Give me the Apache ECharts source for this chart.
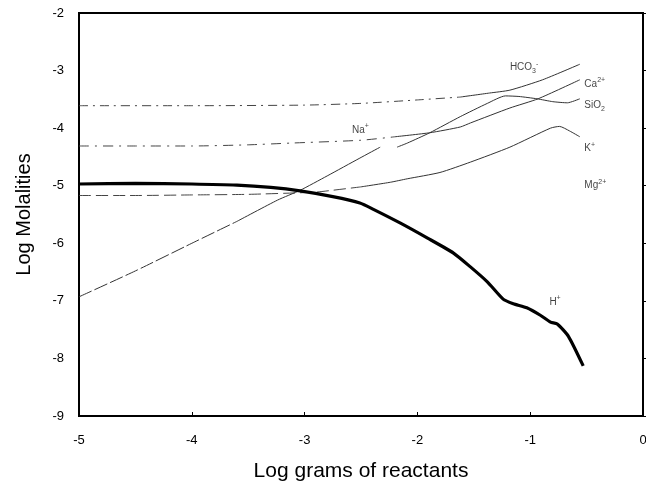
<!DOCTYPE html>
<html>
<head>
<meta charset="utf-8">
<script src="https://cdn.jsdelivr.net/npm/echarts@6/dist/echarts.min.js"></script>
<style>html,body{margin:0;padding:0;background:#fff}#c{width:646px;height:482px}</style>
</head>
<body>
<div id="c"></div>
<script>
// Axis ticks
var xTicks = [-5, -4, -3, -2, -1, 0];
var yTicks = [-9, -8, -7, -6, -5, -4, -3, -2];

// Series values: [log grams of reactants, log molality]
var hPlus = [[-5,-4.97],[-4.5,-4.96],[-4,-4.97],[-3.6,-4.99],[-3.3,-5.03],[-3.04,-5.09],[-2.75,-5.19],[-2.51,-5.3],[-2.39,-5.41],[-2.15,-5.65],[-1.91,-5.91],[-1.68,-6.17],[-1.53,-6.41],[-1.38,-6.67],[-1.24,-6.97],[-1.15,-7.05],[-1.03,-7.12],[-0.91,-7.25],[-0.82,-7.37],[-0.76,-7.4],[-0.66,-7.62],[-0.53,-8.13]];
var steepCurve = [[-5,-6.93],[-4.5,-6.48],[-4,-6.0],[-3.6,-5.62],[-3.24,-5.25],[-3.04,-5.08],[-2.8,-4.83],[-2.51,-4.52],[-2.33,-4.33],null,[-2.18,-4.33],[-2.09,-4.26],[-1.89,-4.08],[-1.62,-3.8],[-1.38,-3.57],[-1.22,-3.44],[-1.1,-3.45],[-0.94,-3.49],[-0.8,-3.54],[-0.67,-3.56],[-0.56,-3.49]];
var naCaCurve = [[-5,-4.31],[-4.5,-4.31],[-4,-4.31],[-3.5,-4.29],[-3.13,-4.26],[-2.5,-4.21],[-2.2,-4.15],[-1.89,-4.08],[-1.62,-3.98],[-1.53,-3.91],[-1.18,-3.65],[-0.93,-3.49],[-0.56,-3.16]];
var hco3Curve = [[-5,-3.61],[-4,-3.61],[-3,-3.6],[-2.5,-3.57],[-2,-3.51],[-1.62,-3.46],[-1.36,-3.39],[-1.18,-3.34],[-0.89,-3.16],[-0.56,-2.89]];
var kCurve = [[-5,-5.17],[-4.5,-5.17],[-4,-5.16],[-3.5,-5.15],[-3,-5.12],[-2.89,-5.11],[-2.5,-5.02],[-2.24,-4.94],[-2.09,-4.88],[-1.8,-4.77],[-1.53,-4.59],[-1.18,-4.33],[-0.82,-4.0],[-0.74,-3.97],[-0.65,-4.05],[-0.56,-4.15]];

// Species labels (annotation anchor in data coords, rich text)
var speciesLabels = [
  [-1.18, -2.94, '{b|HCO}{sb|3}{sp|-}'],
  [-0.52, -3.23, '{b|Ca}{sp|2+}'],
  [-0.52, -3.60, '{b|SiO}{sb|2}'],
  [-2.58, -4.03, '{b|Na}{sp|+}'],
  [-0.52, -4.35, '{b|K}{sp|+}'],
  [-0.52, -5.00, '{b|Mg}{sp|2+}'],
  [-0.83, -7.02, '{b|H}{sp|+}']
];

var FONT = '"Liberation Sans", Arial, sans-serif';

// split a curve into a faint left part and a solid right part sharing one point
function split(data, xs) {
  var k = data.length - 1;
  for (var i = 0; i < data.length; i++) {
    if (data[i] !== null && data[i][0] >= xs) { k = i; break; }
  }
  return [data.slice(0, k + 1), data.slice(k)];
}
function lineSeries(data, width, type, color) {
  return {
    type: 'line', data: data, showSymbol: false, symbol: 'none', connectNulls: false,
    smooth: 0.2, silent: true, animation: false,
    lineStyle: { width: width, type: type, color: color }
  };
}

var series = [];
var s1 = split(hco3Curve, -1.8);
series.push(lineSeries(s1[0], 1, [9, 5, 2, 5], '#444'));
series.push(lineSeries(s1[1], 1, 'solid', '#333'));
var s2 = split(naCaCurve, -2.3);
series.push(lineSeries(s2[0], 1, [10, 6, 2, 6], '#444'));
series.push(lineSeries(s2[1], 1, 'solid', '#333'));
var s3 = split(kCurve, -2.6);
series.push(lineSeries(s3[0], 1, [12, 5], '#444'));
series.push(lineSeries(s3[1], 1, 'solid', '#333'));
var s4 = split(steepCurve, -3.6);
series.push(lineSeries(s4[0], 1, [14, 3], '#333'));
series.push(lineSeries(s4[1], 1, 'solid', '#333'));
series.push(lineSeries(hPlus, 3.2, 'solid', '#000'));

series.push({
  type: 'scatter', symbolSize: 0, silent: true, animation: false,
  data: speciesLabels.map(function (l) { return { value: [l[0], l[1]], text: l[2] }; }),
  label: {
    show: true, position: [0, 0], align: 'left', verticalAlign: 'middle',
    formatter: function (p) { return p.data.text; },
    rich: {
      b: { fontSize: 10, fontFamily: FONT, color: '#111', lineHeight: 14 },
      sp: { fontSize: 7, fontFamily: FONT, color: '#111', verticalAlign: 'top', lineHeight: 8 },
      sb: { fontSize: 7, fontFamily: FONT, color: '#111', verticalAlign: 'bottom', lineHeight: 8 }
    }
  }
});

var chart = echarts.init(document.getElementById('c'), null, { renderer: 'canvas' });
chart.setOption({
  animation: false,
  backgroundColor: '#fff',
  grid: { left: 79, right: 3, top: 13, bottom: 66, containLabel: false, outerBoundsMode: 'none', show: true, borderColor: '#000', borderWidth: 2, backgroundColor: 'transparent' },
  xAxis: {
    type: 'value', min: xTicks[0], max: xTicks[xTicks.length - 1], interval: 1,
    name: 'Log grams of reactants', nameLocation: 'middle', nameGap: 45,
    nameTextStyle: { fontSize: 21, fontFamily: FONT, color: '#000' },
    axisLine: { show: true, lineStyle: { color: '#000', width: 2 } },
    axisTick: { show: true, inside: true, length: 4, lineStyle: { color: '#000', width: 1 } },
    axisLabel: { fontSize: 13, fontFamily: FONT, color: '#000', margin: 18 },
    splitLine: { show: false }
  },
  yAxis: {
    type: 'value', min: yTicks[0], max: yTicks[yTicks.length - 1], interval: 1,
    name: 'Log Molalities', nameLocation: 'middle', nameGap: 45,
    nameTextStyle: { fontSize: 20, fontFamily: FONT, color: '#000' },
    axisLine: { show: true, lineStyle: { color: '#000', width: 2 } },
    axisTick: { show: true, inside: true, length: 4, lineStyle: { color: '#000', width: 1 } },
    axisLabel: { fontSize: 13, fontFamily: FONT, color: '#000', margin: 15 },
    splitLine: { show: false }
  },
  series: series
});
</script>
</body>
</html>
